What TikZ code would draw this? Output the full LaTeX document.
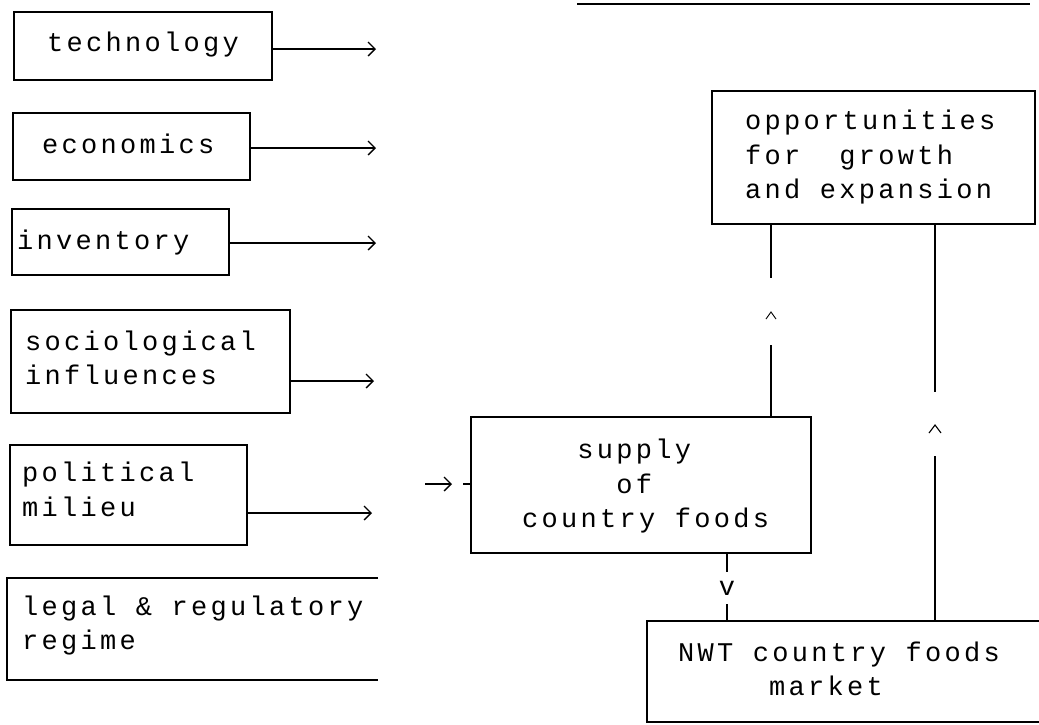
\documentclass[tikz,border=0pt]{standalone}
\usepackage{fontspec}
\newfontfamily\dm{Liberation Mono}[LetterSpace=12.2]
\newfontfamily\dmplain{Liberation Mono}
\usetikzlibrary{arrows.meta,calc}
\newcommand\st{\rule[-6pt]{0pt}{20pt}}
\begin{document}
\begin{tikzpicture}[x=1pt,y=-1pt,
  box/.style={draw, line width=1.5pt, inner sep=0pt},
  openbox/.style={inner sep=0pt},
  txt/.style={inner sep=0pt, font=\dm\fontsize{27}{34.5}\selectfont, align=left, anchor=west},
  arr/.style={line width=1.3pt, -{Straight Barb[length=7pt,width=14pt,line width=1.3pt]}},
  conn/.style={line width=1.2pt},
  caret/.style={line width=0.9pt, line join=miter}]
\useasboundingbox (0,0) rectangle (1039,724);
\clip (0,0) rectangle (1039,724);

% title underline (text cut off at top)
\draw[line width=2.6pt] (577,4) -- (1030,4);

% left column boxes
\node[box, minimum width=258, minimum height=68] (tech) at (143,46) {};
\node[txt] (techT) at (47,45) {\st technology};
\node[box, minimum width=237, minimum height=67] (econ) at (131.5,146.5) {};
\node[txt] (econT) at (42,147) {\st economics};
\node[box, minimum width=217, minimum height=66] (inv) at (120.5,242) {};
\node[txt] (invT) at (17,243) {\st inventory};
\node[box, minimum width=279, minimum height=103] (soc) at (150.5,361.5) {};
\node[txt] (socT) at (25,360.5) {\st sociological\\\st influences};
\node[box, minimum width=237, minimum height=100] (pol) at (128.5,495) {};
\node[txt] (polT) at (22,492) {\st political\\\st milieu};
\node[openbox, minimum width=371, minimum height=102] (leg) at (192.5,629) {};
\draw[line width=1.5pt] (leg.north east) -- (leg.north west) -- (leg.south west) -- (leg.south east);
\draw[line width=2.6pt] (leg.north west) -- (leg.north east);
\node[txt] (legT) at (22,625.5) {\st legal \& regulatory\\\st regime};

% arrow ends
\coordinate (e1) at (376,49);
\coordinate (e2) at (376,148);
\coordinate (e3) at (376,243);
\coordinate (e4) at (374,381);
\coordinate (e5) at (372,513);
\draw[arr] (tech.east |- e1) -- (e1);
\draw[arr] (econ.east |- e2) -- (e2);
\draw[arr] (inv.east |- e3) -- (e3);
\draw[arr] (soc.east |- e4) -- (e4);
\draw[arr] (pol.east |- e5) -- (e5);

% right side boxes
\node[box, minimum width=323, minimum height=133] (opp) at (873.5,157.5) {};
\node[txt] (oppT) at (745,157.5) {\st opportunities\\\st for\ \ growth\\\st and expansion};
\node[box, minimum width=340, minimum height=136] (sup) at (641,485) {};
\node[txt] (supT) at (522,486.5) {\st\phantom{cou}supply\\\st\phantom{count}of\\\st country foods};
\node[openbox, minimum width=403, minimum height=101] (mkt) at (848.5,671.5) {};
\draw[line width=1.6pt] (mkt.north east) -- (mkt.north west) -- (mkt.south west) -- (mkt.south east);
\node[txt] (mktT) at (678,671.5) {\st NWT country foods\\\st\phantom{NWT c}market};

% input arrow into supply
\coordinate (inL) at (425,484);
\draw[arr] (inL) -- (452,484);
\draw[conn] (463,484) -- (sup.west |- inL);

% supply -> opportunities (up)
\coordinate (cL) at (771,315);
\draw[conn] (opp.south -| cL) -- ($(opp.south -| cL)+(0,53)$);
\draw[caret] ($(cL)+(-5,4)$) -- ($(cL)+(0,-3)$) -- ($(cL)+(5,4)$);
\draw[conn] ($(cL)+(0,30)$) -- (sup.north -| cL);

% market -> opportunities (up)
\coordinate (cR) at (935,428);
\draw[conn] (opp.south -| cR) -- ($(cR)+(0,-36)$);
\draw[caret, line width=1.1pt] ($(cR)+(-6,5)$) -- ($(cR)+(0,-3)$) -- ($(cR)+(6,5)$);
\draw[conn] ($(cR)+(0,28)$) -- (mkt.north -| cR);

% supply -> market (down)
\node[inner xsep=0pt, inner ysep=9pt, font=\dmplain\fontsize{27}{30}\selectfont] (vdn) at (727,588) {v};
\draw[conn] (sup.south -| vdn) -- (vdn.north);
\draw[conn] (vdn.south) -- (mkt.north -| vdn);
\end{tikzpicture}
\end{document}
